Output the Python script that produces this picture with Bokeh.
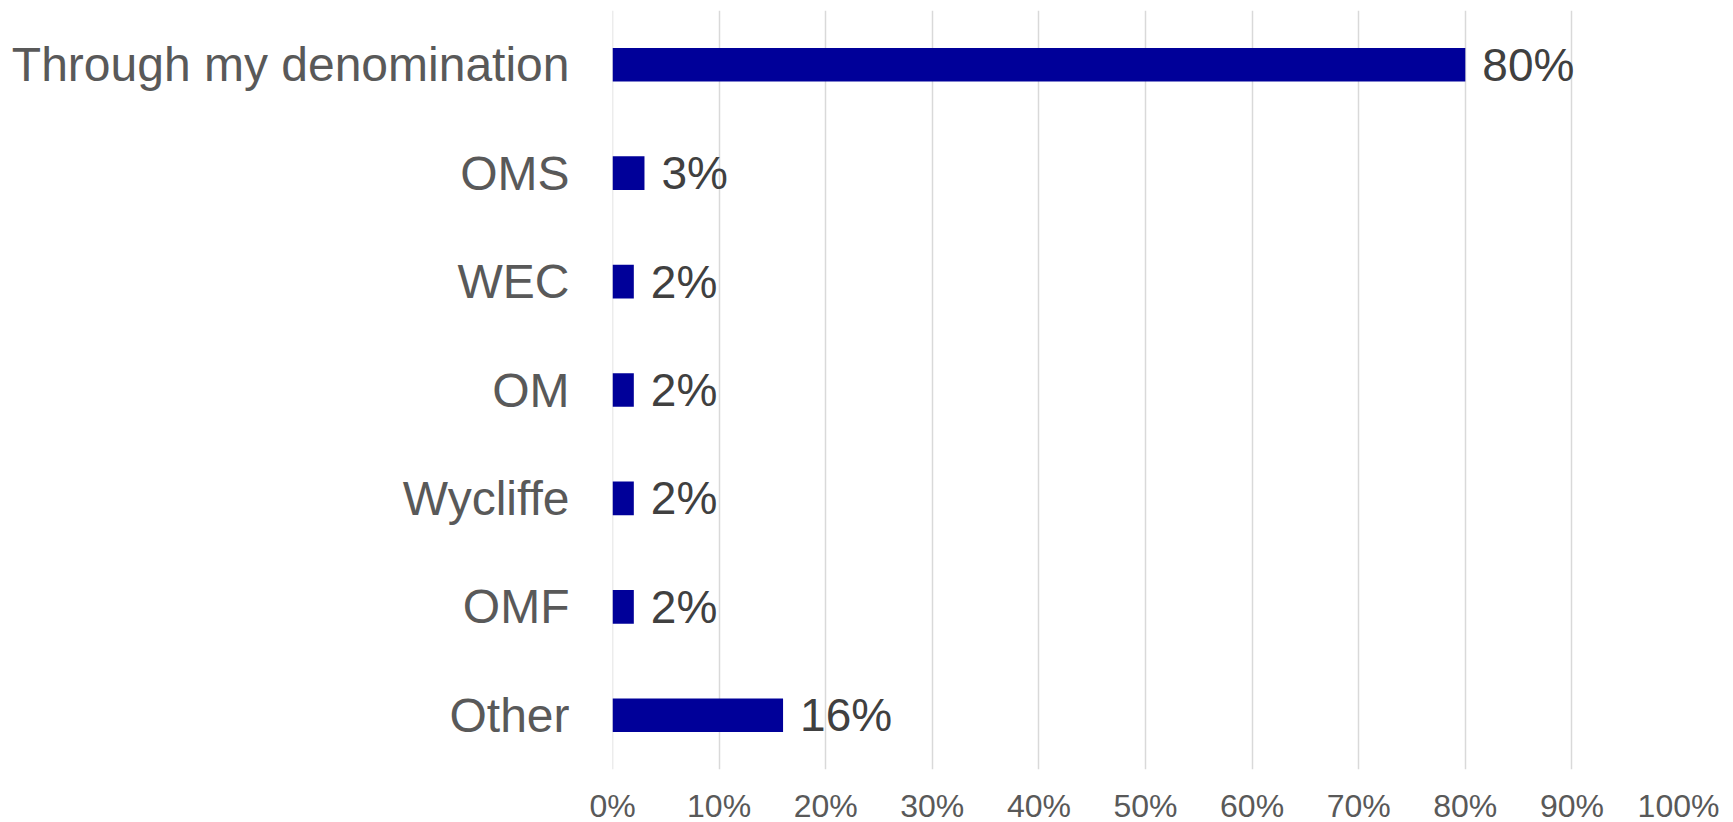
from bokeh.plotting import figure
from bokeh.models import FactorRange, Range1d, FixedTicker, PrintfTickFormatter, ColumnDataSource, Span
from bokeh.core.properties import value
from bokeh.embed import file_html
from bokeh.resources import INLINE

categories = ["Through my denomination", "OMS", "WEC", "OM", "Wycliffe", "OMF", "Other"]
values = [80, 3, 2, 2, 2, 2, 16]
labels = ["80%", "3%", "2%", "2%", "2%", "2%", "16%"]
x_ticks = [0, 10, 20, 30, 40, 50, 60, 70, 80, 90, 100]

FONT = "Liberation Sans"

src = ColumnDataSource(dict(cat=categories, val=values, lab=labels))

p = figure(
    y_range=FactorRange(factors=list(reversed(categories)), range_padding=0),
    x_range=Range1d(0, 100),
    frame_width=1066, frame_height=759,
    min_border_left=612, min_border_top=10, min_border_right=47, min_border_bottom=0,
    output_backend="svg", toolbar_location=None,
)
p.outline_line_color = None
p.background_fill_color = "white"
p.border_fill_color = "white"

p.add_layout(Span(location=0, dimension="height", line_color="#d9d9d9",
                  line_width=1.5, level="underlay"))

p.hbar(y="cat", right="val", left=0, height=0.31, source=src,
       fill_color="#000099", line_color=None)

p.text(x="val", y="cat", text="lab", source=src, x_offset=17,
       text_align="left", text_baseline="middle",
       text_font=value(FONT), text_font_size="46px", text_color="#404040")

p.ygrid.grid_line_color = None
p.xgrid.grid_line_color = "#d9d9d9"
p.xgrid.grid_line_width = 1.5
p.xgrid.ticker = FixedTicker(ticks=x_ticks)

xa = p.xaxis[0]
xa.ticker = FixedTicker(ticks=x_ticks)
xa.formatter = PrintfTickFormatter(format="%d%%")
xa.axis_line_color = None
xa.major_tick_line_color = None
xa.minor_tick_line_color = None
xa.major_tick_out = 0
xa.major_tick_in = 0
xa.major_label_standoff = 18
xa.major_label_text_line_height = 1.0
xa.major_label_text_font = FONT
xa.major_label_text_font_size = "32px"
xa.major_label_text_color = "#595959"

ya = p.yaxis[0]
ya.axis_line_color = None
ya.major_tick_line_color = None
ya.minor_tick_line_color = None
ya.major_tick_out = 0
ya.major_tick_in = 0
ya.major_label_standoff = 43
ya.major_label_text_font = FONT
ya.major_label_text_font_size = "48px"
ya.major_label_text_color = "#595959"

open("out.html", "w").write(file_html(p, INLINE))
